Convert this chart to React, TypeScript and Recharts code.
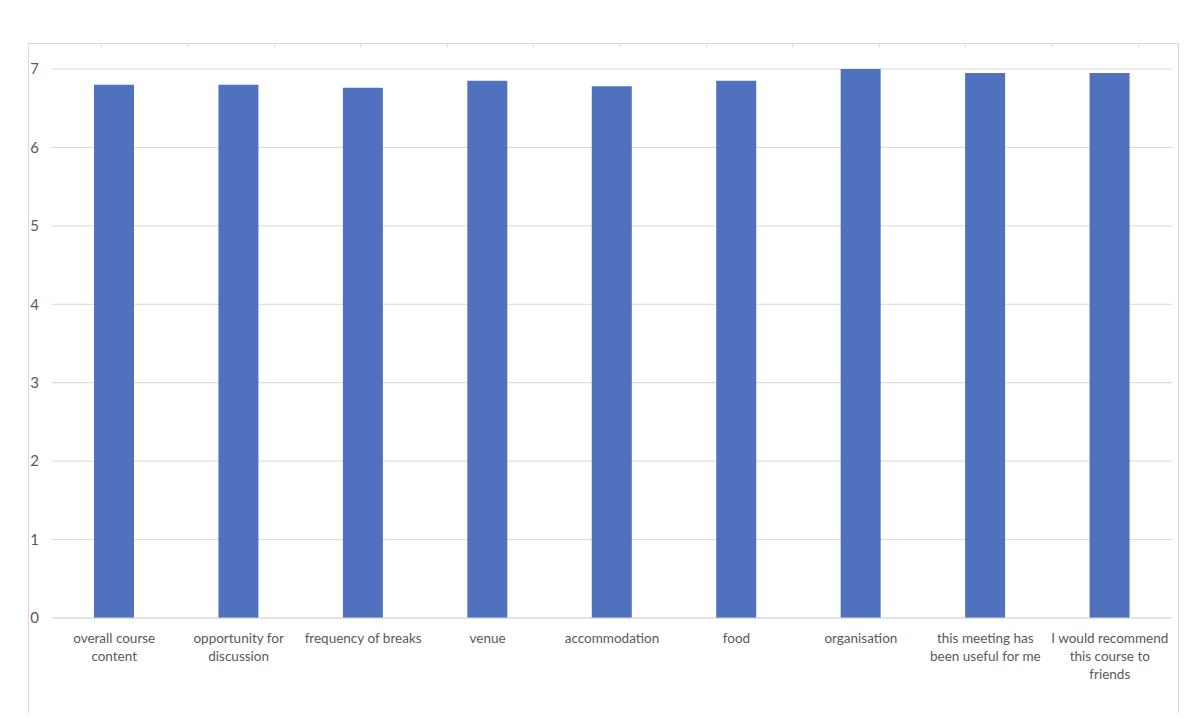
import React from 'react';
import { BarChart, Bar, XAxis, YAxis, CartesianGrid } from 'recharts';

const categories = [
  'overall course content',
  'opportunity for discussion',
  'frequency of breaks',
  'venue',
  'accommodation',
  'food',
  'organisation',
  'this meeting has been useful for me',
  'I would recommend this course to friends',
];

const scores = [6.8, 6.8, 6.76, 6.85, 6.78, 6.85, 7.0, 6.95, 6.95];

const yTicks = [0, 1, 2, 3, 4, 5, 6, 7];

const data = categories.map((name, i) => ({ name, score: scores[i] }));

const FONT = 'Lato, "Liberation Sans", sans-serif';
const TEXT = '#595959';
const LINE = '#d9d9d9';

// greedy wrap, roughly how Excel breaks the category labels
const wrap = (text: string, maxChars = 19) => {
  const lines: string[] = [];
  let cur = '';
  text.split(' ').forEach(w => {
    const next = cur ? cur + ' ' + w : w;
    if (next.length > maxChars && cur) {
      lines.push(cur);
      cur = w;
    } else {
      cur = next;
    }
  });
  if (cur) lines.push(cur);
  return lines;
};

const CategoryTick = ({ x, y, payload }: any) => {
  const lines = wrap(payload.value);
  return (
    <text x={x} y={y} textAnchor="middle" fill={TEXT} fontSize={13.5} fontFamily={FONT}>
      {lines.map((l, i) => (
        <tspan key={i} x={x} dy={i === 0 ? 17 : 18}>
          {l}
        </tspan>
      ))}
    </text>
  );
};

const topTicks = Array.from({ length: 13 }, (_, k) => 101 + k * 86.4);

export default function App() {
  return (
    <div style={{ position: 'absolute', left: 0, top: 0, width: 1200, height: 719, background: '#fff', overflow: 'hidden' }}>
      {/* chart frame */}
      <div style={{ position: 'absolute', left: 28, top: 43, width: 1149, height: 669, borderTop: `1px solid ${LINE}`, borderLeft: `1px solid ${LINE}`, borderRight: `1px solid ${LINE}` }} />
      {topTicks.map((t, i) => (
        <div key={i} style={{ position: 'absolute', left: t, top: 44, width: 1, height: 3, background: LINE }} />
      ))}
      <div style={{ position: 'absolute', left: 0, top: 0 }}>
        <BarChart width={1200} height={719} data={data} margin={{ top: 69, right: 28, bottom: 1, left: 0 }} barCategoryGap="0%">
          <CartesianGrid vertical={false} stroke={LINE} strokeWidth={1} />
          <XAxis
            dataKey="name"
            interval={0}
            height={100}
            tickLine={false}
            axisLine={{ stroke: LINE }}
            tick={<CategoryTick />}
          />
          <YAxis
            domain={[0, 7]}
            ticks={yTicks}
            width={52}
            axisLine={false}
            tickLine={false}
            tickSize={0}
            tickMargin={13}
            tick={{ fill: TEXT, fontSize: 15, fontFamily: FONT }}
          />
          <Bar dataKey="score" fill="#4F71BE" barSize={40} isAnimationActive={false} />
        </BarChart>
      </div>
    </div>
  );
}
